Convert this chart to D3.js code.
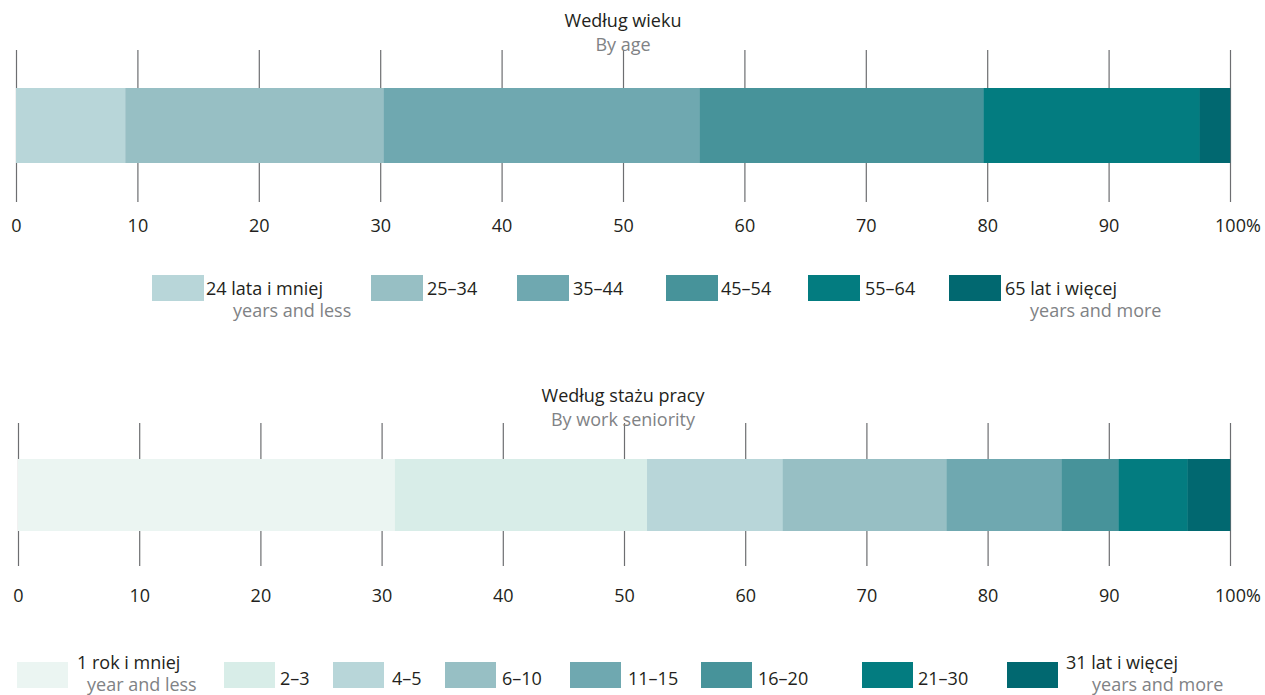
<!DOCTYPE html>
<html>
<head>
<meta charset="utf-8">
<script src="https://cdn.jsdelivr.net/npm/d3@7"></script>
<style>
  html, body { margin: 0; padding: 0; background: #ffffff; }
  svg { display: block; }
  text { font-family: "Open Sans", "Noto Sans", sans-serif; }
</style>
</head>
<body>
<svg id="chart" width="1265" height="695"></svg>
<script>
// ---------- DATA ----------
const tickValues = [0, 10, 20, 30, 40, 50, 60, 70, 80, 90, 100];

const ageTitle = "Według wieku";
const ageSubtitle = "By age";
const ageCategories = ["24 lata i mniej", "25–34", "35–44", "45–54", "55–64", "65 lat i więcej"];
const ageSubLabels  = ["years and less", "", "", "", "", "years and more"];
const ageValues     = [9.0, 21.3, 26.0, 23.4, 17.8, 2.5];

const tenureTitle = "Według stażu pracy";
const tenureSubtitle = "By work seniority";
const tenureCategories = ["1 rok i mniej", "2–3", "4–5", "6–10", "11–15", "16–20", "21–30", "31 lat i więcej"];
const tenureSubLabels  = ["year and less", "", "", "", "", "", "", "years and more"];
const tenureValues     = [31.1, 20.8, 11.2, 13.5, 9.5, 4.7, 5.7, 3.5];

// ---------- STYLE ----------
const ageColors    = ["#b8d6d9", "#97bfc4", "#6fa8b0", "#47939a", "#037c80", "#016870"];
const tenureColors = ["#ebf5f2", "#d8ede8", "#b8d6d9", "#97bfc4", "#6fa8b0", "#47939a", "#037c80", "#016870"];
const FS = "18px";

// ---------- LAYOUT ----------
const agePanel = {
  x0: 16, x1: 1230,
  titleY: 27, subtitleY: 51, titleX: 623,
  tickTop: 50, tickBottom: 202, labelPad: 17,
  barTop: 88, barH: 75,
  legend: {
    swatchX: [152, 371, 517, 666, 808, 949], swatchW: 52, swatchY: 275, swatchH: 26,
    labelX: [206, 427, 573, 721, 865, 1005], subX: [233, 0, 0, 0, 0, 1030],
    labelY: 295, labelYMulti: 295, subY: 317
  }
};
const tenurePanel = {
  x0: 18, x1: 1230,
  titleY: 402, subtitleY: 426, titleX: 623,
  tickTop: 423, tickBottom: 566, labelPad: 23,
  barTop: 459, barH: 72,
  legend: {
    swatchX: [17, 224, 333, 445, 570, 701, 862, 1007], swatchW: 51, swatchY: 662, swatchH: 26,
    labelX: [77, 280, 392, 502, 628, 758, 918, 1066], subX: [87, 0, 0, 0, 0, 0, 0, 1092],
    labelY: 685, labelYMulti: 669, subY: 691
  }
};

const svg = d3.select("#chart");

function drawPanel(p, title, subtitle, cats, subs, vals, colors) {
  const g = svg.append("g");
  const x = d3.scaleLinear().domain([0, 100]).range([p.x0, p.x1]);

  // axis with long tick lines (behind bars)
  const axis = d3.axisBottom(x)
    .tickValues(tickValues)
    .tickSize(p.tickBottom - p.tickTop)
    .tickPadding(p.labelPad)
    .tickFormat(d => d === 100 ? "100%" : String(d));
  const ag = g.append("g")
    .attr("transform", `translate(0,${p.tickTop})`)
    .call(axis);
  ag.select(".domain").remove();
  ag.selectAll(".tick line").attr("stroke", "#6d6e71").attr("stroke-width", 1.2);
  ag.selectAll(".tick text")
    .attr("fill", "#231f20")
    .style("font-size", "18px")
    .style("font-family", "'Open Sans', sans-serif")
    .each(function(d) {
      if (d === 100) {
        // centre the number (not the % sign) on the tick
        const t = d3.select(this);
        t.text("100");
        const num = this.getComputedTextLength();
        t.text("100%");
        t.attr("text-anchor", "start").attr("x", -num / 2);
      }
    });

  // stacked bar
  let cum = 0;
  const segs = vals.map((v, i) => { const s = { start: cum, end: cum + v, i }; cum += v; return s; });
  g.selectAll("rect.seg").data(segs).join("rect")
    .attr("class", "seg")
    .attr("x", d => x(d.start))
    .attr("width", d => x(d.end) - x(d.start) + 0.3)
    .attr("y", p.barTop)
    .attr("height", p.barH)
    .attr("fill", d => colors[d.i]);

  // titles
  g.append("text").attr("x", p.titleX).attr("y", p.titleY)
    .attr("text-anchor", "middle").attr("fill", "#231f20")
    .style("font-size", FS).text(title);
  g.append("text").attr("x", p.titleX).attr("y", p.subtitleY)
    .attr("text-anchor", "middle").attr("fill", "#808285")
    .style("font-size", FS).text(subtitle);

  // legend
  const L = p.legend;
  const items = cats.map((c, i) => ({ c, sub: subs[i], i }));
  const lg = g.append("g");
  lg.selectAll("rect").data(items).join("rect")
    .attr("x", d => L.swatchX[d.i]).attr("y", L.swatchY)
    .attr("width", L.swatchW).attr("height", L.swatchH)
    .attr("fill", d => colors[d.i]);
  lg.selectAll("text.lab").data(items).join("text")
    .attr("class", "lab")
    .attr("x", d => L.labelX[d.i])
    .attr("y", d => d.sub ? L.labelYMulti : L.labelY)
    .attr("fill", "#231f20")
    .style("font-size", FS)
    .text(d => d.c);
  lg.selectAll("text.sub").data(items.filter(d => d.sub)).join("text")
    .attr("class", "sub")
    .attr("x", d => L.subX[d.i])
    .attr("y", L.subY)
    .attr("fill", "#808285")
    .style("font-size", FS)
    .text(d => d.sub);
}

drawPanel(agePanel, ageTitle, ageSubtitle, ageCategories, ageSubLabels, ageValues, ageColors);
drawPanel(tenurePanel, tenureTitle, tenureSubtitle, tenureCategories, tenureSubLabels, tenureValues, tenureColors);
</script>
</body>
</html>
